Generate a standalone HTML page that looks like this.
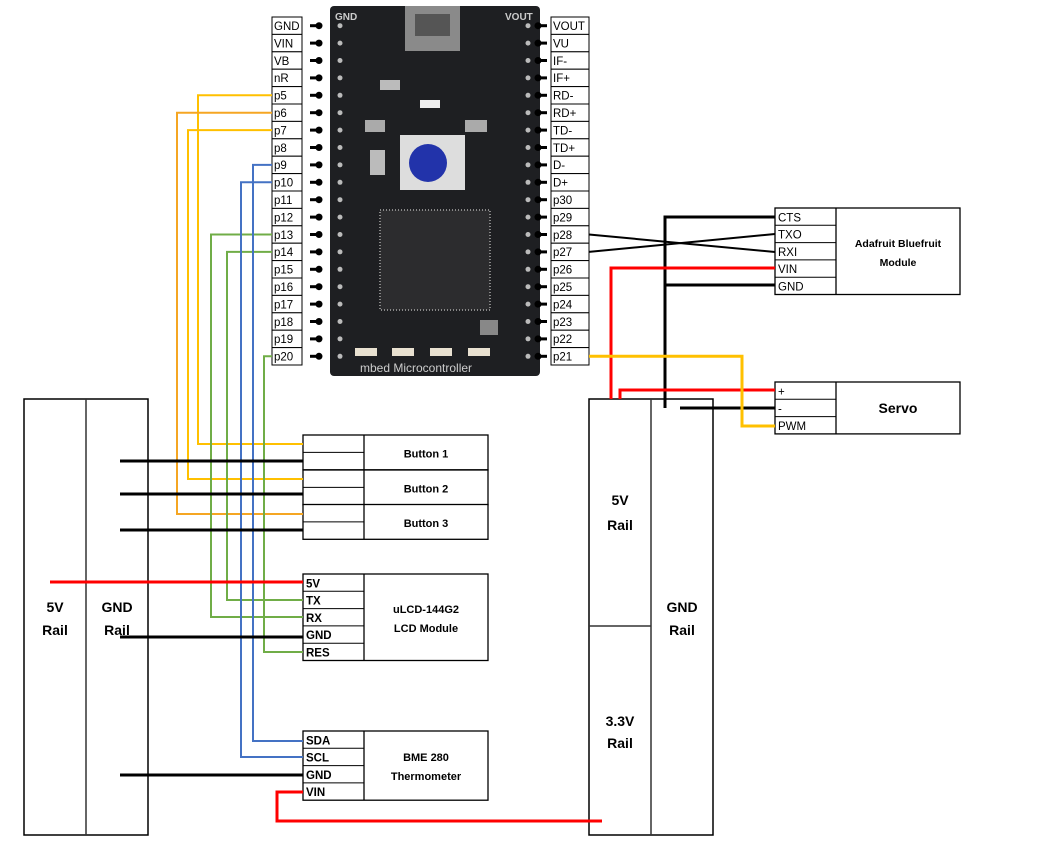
<!DOCTYPE html>
<html><head><meta charset="utf-8"><style>
html,body{margin:0;padding:0;background:#fff;width:1041px;height:845px;overflow:hidden}
svg{display:block}
text{font-family:"Liberation Sans",sans-serif}
.pl{font-size:11.5px;fill:#000}
.b{font-weight:bold}
</style></head><body>
<svg width="1041" height="845" viewBox="0 0 1041 845" xmlns="http://www.w3.org/2000/svg">
<!-- mbed board -->
<rect x="330" y="6" width="210" height="370" rx="4" fill="#1e1f22"/>
<rect x="405" y="6" width="55" height="45" fill="#8a8a8a"/>
<rect x="415" y="14" width="35" height="22" fill="#555"/>
<rect x="400" y="135" width="65" height="55" fill="#ddd"/>
<circle cx="428" cy="163" r="19" fill="#2233aa"/>
<rect x="380" y="210" width="110" height="100" fill="#2c2c2e" stroke="#888" stroke-width="2" stroke-dasharray="1 2"/>
<rect x="350" y="340" width="150" height="20" fill="#1e1f22"/>
<rect x="355" y="348" width="22" height="8" fill="#e8e0d0"/><rect x="392" y="348" width="22" height="8" fill="#e8e0d0"/><rect x="430" y="348" width="22" height="8" fill="#e8e0d0"/><rect x="468" y="348" width="22" height="8" fill="#e8e0d0"/>
<rect x="480" y="320" width="18" height="15" fill="#888"/>
<rect x="365" y="120" width="20" height="12" fill="#aaa"/><rect x="465" y="120" width="22" height="12" fill="#aaa"/>
<rect x="370" y="150" width="15" height="25" fill="#bbb"/>
<rect x="380" y="80" width="20" height="10" fill="#bbb"/><rect x="420" y="100" width="20" height="8" fill="#eee"/>
<text x="360" y="372" font-size="12" fill="#ccc" font-family="Liberation Mono">mbed Microcontroller</text>
<text x="335" y="20" font-size="10" fill="#ccc" class="b">GND</text>
<text x="505" y="20" font-size="10" fill="#ccc" class="b">VOUT</text>
<g fill="#aaa">
<g id="ldots"></g>
</g>
<g id="pins"></g>
</svg>
<script>
(function(){
const ns="http://www.w3.org/2000/svg";const svg=document.querySelector('svg');
function el(t,a,txt){const e=document.createElementNS(ns,t);for(const k in a)e.setAttribute(k,a[k]);if(txt)e.textContent=txt;svg.appendChild(e);return e;}
const L=["GND","VIN","VB","nR","p5","p6","p7","p8","p9","p10","p11","p12","p13","p14","p15","p16","p17","p18","p19","p20"];
const R=["VOUT","VU","IF-","IF+","RD-","RD+","TD-","TD+","D-","D+","p30","p29","p28","p27","p26","p25","p24","p23","p22","p21"];
const y0=17,h=17.4;
for(let i=0;i<20;i++){const y=y0+i*h;
 el('rect',{x:272,y:y,width:30,height:h,fill:'#fff',stroke:'#000','stroke-width':1});
 el('text',{x:274,y:y+13,class:'pl'},L[i]);
 el('rect',{x:551,y:y,width:38,height:h,fill:'#fff',stroke:'#000','stroke-width':1});
 el('text',{x:553,y:y+13,class:'pl'},R[i]);
 el('line',{x1:310,y1:y+h/2,x2:320,y2:y+h/2,stroke:'#000','stroke-width':3});
 el('circle',{cx:319,cy:y+h/2,r:3.5,fill:'#000'});
 el('line',{x1:537,y1:y+h/2,x2:547,y2:y+h/2,stroke:'#000','stroke-width':3});
 el('circle',{cx:538,cy:y+h/2,r:3.5,fill:'#000'});
 el('circle',{cx:340,cy:y+h/2,r:2.5,fill:'#bbb'});
 el('circle',{cx:528,cy:y+h/2,r:2.5,fill:'#bbb'});
}
function P(pts,c,w){el('polyline',{points:pts,fill:'none',stroke:c,'stroke-width':w||2});}
function py(i){return y0+i*h+h/2;}
// rails
el('rect',{x:24,y:399,width:124,height:436,fill:'none',stroke:'#000','stroke-width':1.5});
el('line',{x1:86,y1:399,x2:86,y2:835,stroke:'#333','stroke-width':1.5});
el('rect',{x:589,y:399,width:124,height:436,fill:'none',stroke:'#000','stroke-width':1.5});
el('line',{x1:651,y1:399,x2:651,y2:835,stroke:'#333','stroke-width':1.5});
el('line',{x1:589,y1:626,x2:651,y2:626,stroke:'#333','stroke-width':1.5});
function T(x,y,s,fs){el('text',{x:x,y:y,'text-anchor':'middle','font-size':fs||14,class:'b'},s);}
T(55,612,"5V");T(55,635,"Rail");T(117,612,"GND");T(117,635,"Rail");
T(620,505,"5V");T(620,530,"Rail");T(620,726,"3.3V");T(620,748,"Rail");T(682,612,"GND");T(682,635,"Rail");
// module boxes
function box(x,y,rows,rh,label,fs,lines){
 const H=rows.length*rh;
 el('rect',{x:x,y:y,width:185,height:H,fill:'#fff',stroke:'#000','stroke-width':1.3});
 el('line',{x1:x+61,y1:y,x2:x+61,y2:y+H,stroke:'#000','stroke-width':1.3});
 for(let i=1;i<rows.length;i++)el('line',{x1:x,y1:y+i*rh,x2:x+61,y2:y+i*rh,stroke:'#000','stroke-width':1});
 rows.forEach((r,i)=>{if(r)el('text',{x:x+3,y:y+i*rh+rh-4,'font-size':11.5,class:lines?'':'b'},r);});
 label.forEach((s,i)=>T(x+123,y+H/2+(i-(label.length-1)/2)*19+5,s,fs));
}
// buttons
[[435,"Button 1"],[470,"Button 2"],[504.5,"Button 3"]].forEach(b=>box(303,b[0],["",""],17.4,[b[1]],11));
box(303,574,["5V","TX","RX","GND","RES"],17.3,["uLCD-144G2","LCD Module"],11);
box(303,731,["SDA","SCL","GND","VIN"],17.3,["BME 280","Thermometer"],11);
box(775,208,["CTS","TXO","RXI","VIN","GND"],17.3,["Adafruit Bluefruit","Module"],10.5,true);
box(775,382,["+","-","PWM"],17.3,["Servo"],14,true);
// wires
const Y='#ffc000',G='#70ad47',B='#4472c4',K='#000',Rd='#ff0000';
P(`272,${py(4)} 198,${py(4)} 198,444 303,444`,Y);
P(`272,${py(5)} 177,${py(5)} 177,514 303,514`,'#f5a623');
P(`272,${py(6)} 188,${py(6)} 188,479 303,479`,Y);
P(`272,${py(12)} 211,${py(12)} 211,617 303,617`,G);
P(`272,${py(13)} 227,${py(13)} 227,600 303,600`,G);
P(`272,${py(19)} 264,${py(19)} 264,652 303,652`,G);
P(`272,${py(8)} 253,${py(8)} 253,741 303,741`,B);
P(`272,${py(9)} 241,${py(9)} 241,757 303,757`,B);
P(`120,461 303,461`,K,3);P(`120,494 303,494`,K,3);P(`120,530 303,530`,K,3);
P(`50,582 303,582`,Rd,3);P(`120,637 303,637`,K,3);P(`120,775 303,775`,K,3);
P(`303,792 277,792 277,821 602,821`,Rd,3);
P(`589,${py(12)} 775,252`,K,2);P(`589,${py(13)} 775,234`,K,2);
P(`665,408 665,217 775,217`,K,3);P(`665,285 775,285`,K,3);
P(`775,268 611,268 611,399`,Rd,3);P(`620,399 620,390 775,390`,Rd,3);
P(`680,408 775,408`,K,3);
P(`589,${py(19)} 742,${py(19)} 742,426 775,426`,Y,3);
})();
</script>
</body></html>
